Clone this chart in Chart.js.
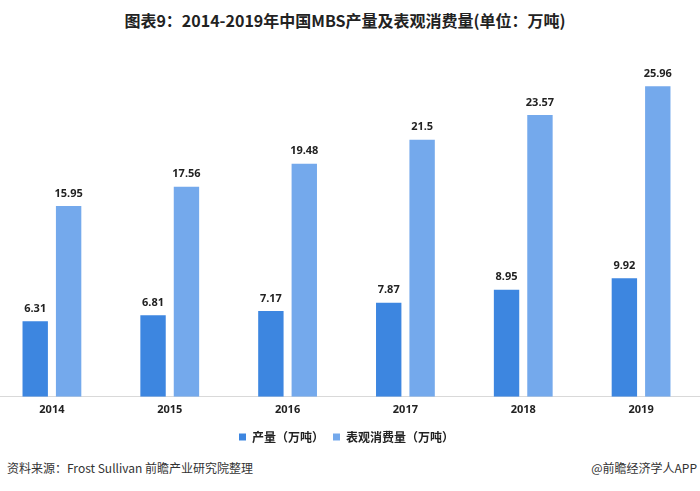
<!DOCTYPE html>
<html>
<head>
<meta charset="utf-8">
<title>MBS产量及表观消费量</title>
<script src="https://cdn.jsdelivr.net/npm/chart.js@4/dist/chart.umd.min.js"></script>
<style>
  body { margin: 0; width: 700px; height: 491px; overflow: hidden; background: #fff; position: relative;
         font-family: "Noto Sans CJK SC", "Noto Sans", sans-serif; }
  .title { position: absolute; top: 8px; left: 0; width: 690px; text-align: center;
           font-size: 16px; font-weight: bold; color: #222; }
  .wrap { position: absolute; left: -7px; top: 0; width: 707px; height: 453px; }
  .src { position: absolute; left: 7px; top: 459px; font-size: 12px; color: #333; }
  .app { position: absolute; right: 3px; top: 459px; font-size: 12px; color: #333; }
</style>
</head>
<body>
<div class="title">图表9：2014-2019年中国MBS产量及表观消费量(单位：万吨)</div>
<div class="wrap"><canvas id="myChart"></canvas></div>
<div class="src">资料来源：Frost Sullivan 前瞻产业研究院整理</div>
<div class="app">@前瞻经济学人APP</div>
<script>
var years = ["2014", "2015", "2016", "2017", "2018", "2019"];
var output = [6.31, 6.81, 7.17, 7.87, 8.95, 9.92];
var consumption = [15.95, 17.56, 19.48, 21.5, 23.57, 25.96];
var seriesNames = ["产量（万吨）", "表观消费量（万吨）"];

// values above each bar
var valueLabels = {
    id: 'valueLabels',
    afterDatasetsDraw: function(chart) {
        var ctx = chart.ctx;
        ctx.save();
        ctx.font = 'bold 11px "Noto Sans", sans-serif';
        ctx.fillStyle = '#222';
        ctx.textAlign = 'center';
        ctx.textBaseline = 'bottom';
        chart.data.datasets.forEach(function(ds, i) {
            chart.getDatasetMeta(i).data.forEach(function(bar, j) {
                ctx.fillText(String(ds.data[j]), bar.x, bar.y - 7);
            });
        });
        ctx.restore();
    }
};

var ctx = document.getElementById("myChart").getContext("2d");
var myBarChart = new Chart(ctx, {
    type: 'bar',
    data: {
        labels: years,
        datasets: [
            { label: seriesNames[0], data: output, backgroundColor: '#3d86e0',
              categoryPercentage: 0.567, barPercentage: 0.76 },
            { label: seriesNames[1], data: consumption, backgroundColor: '#74a9ec',
              categoryPercentage: 0.567, barPercentage: 0.76 }
        ]
    },
    options: {
        responsive: true,
        maintainAspectRatio: false,
        animation: false,
        layout: { padding: { top: 38, left: 0, right: 0, bottom: 0 } },
        scales: {
            x: {
                grid: { display: false, drawTicks: false, tickLength: 0 },
                border: { color: '#d9d9d9', width: 1 },
                ticks: { color: '#222', font: { size: 11, weight: 'bold', family: '"Noto Sans", sans-serif' }, padding: 6 }
            },
            y: { display: false, min: 0, max: 30 }
        },
        plugins: {
            legend: {
                position: 'bottom',
                labels: { boxWidth: 7, boxHeight: 7, color: '#222', padding: 9,
                          font: { size: 12, weight: 'bold', family: '"Noto Sans CJK SC", sans-serif' } }
            },
            tooltip: { enabled: false }
        }
    },
    plugins: [valueLabels]
});
</script>
</body>
</html>
